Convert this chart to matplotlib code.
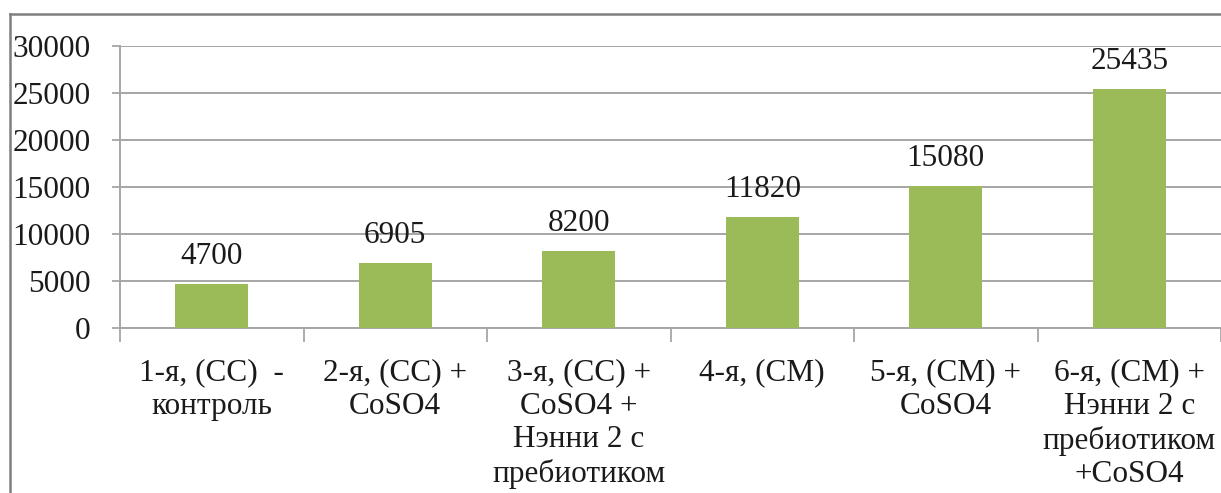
import matplotlib
matplotlib.use("Agg")
import matplotlib.pyplot as plt
from matplotlib.lines import Line2D

categories = [
    "1-я, (СС)  -\nконтроль",
    "2-я, (СС) +\nCoSO4",
    "3-я, (СС) +\nCoSO4 +\nНэнни 2 с\nпребиотиком",
    "4-я, (СМ)",
    "5-я, (СМ) +\nCoSO4",
    "6-я, (СМ) +\nНэнни 2 с\nпребиотиком\n+CoSO4",
]
values = [4700, 6905, 8200, 11820, 15080, 25435]
y_ticks = [0, 5000, 10000, 15000, 20000, 25000, 30000]

plt.rcParams["font.family"] = ["Liberation Serif", "DejaVu Serif"]

fig = plt.figure(figsize=(12.21, 4.93), dpi=100)
ax = fig.add_axes([0.0983, 0.3347, 0.9017, 0.572])

bar_color = "#9BBB59"
grid_color = "#A6A6A6"
text_color = "#1A1A1A"
fs = 22.5

x = list(range(len(values)))
ax.bar(x, values, width=0.4, color=bar_color, zorder=3)

for xi, v in zip(x, values):
    ax.annotate(f"{v}", (xi, v), xytext=(0, 14.4), textcoords="offset points",
                ha="center", va="baseline", fontsize=fs, color=text_color)

ax.set_xlim(-0.5, len(values) - 0.5)
ax.set_ylim(0, 30000)
ax.set_yticks(y_ticks)
ax.set_yticklabels([str(t) for t in y_ticks])
ax.yaxis.grid(True, color=grid_color, linewidth=1.4, zorder=0)
ax.set_axisbelow(True)

ax.set_xticks(x)
ax.set_xticklabels(categories, fontsize=fs, color=text_color, linespacing=1.2)
ax.set_xticks([i - 0.5 for i in range(len(values) + 1)], minor=True)
ax.tick_params(axis="x", which="major", length=0, pad=22)
ax.tick_params(axis="x", which="minor", length=10, width=1.3, color=grid_color, direction="out")
ax.tick_params(axis="y", length=6, width=1.3, color=grid_color, pad=15,
               labelsize=fs, labelcolor=text_color)

for side in ("top", "right"):
    ax.spines[side].set_visible(False)
for side in ("left", "bottom"):
    ax.spines[side].set_color(grid_color)
    ax.spines[side].set_linewidth(1.4)

# outer chart frame (left and top edges)
W, H = 1221, 493
fig.add_artist(Line2D([10 / W, 10 / W], [0, 1 - 14 / H], transform=fig.transFigure,
                      color="#7F7F7F", linewidth=1.8))
fig.add_artist(Line2D([10 / W, 1], [1 - 14 / H, 1 - 14 / H], transform=fig.transFigure,
                      color="#7F7F7F", linewidth=1.8))

fig.savefig("out.png", dpi=100, facecolor="white")
